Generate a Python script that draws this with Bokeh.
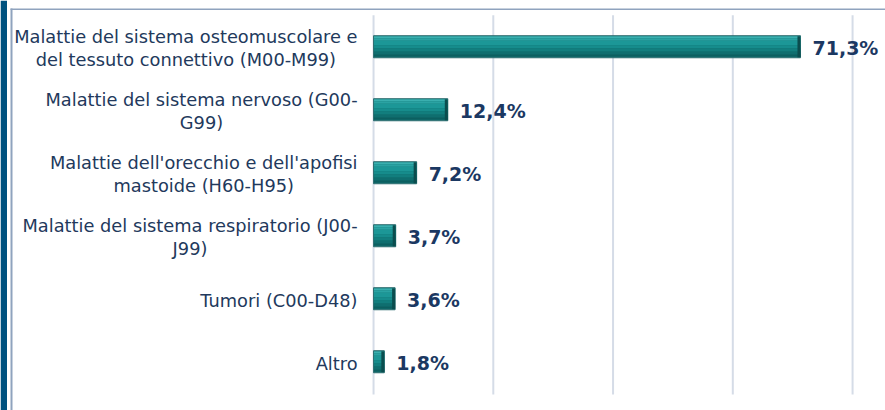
from bokeh.plotting import figure
from bokeh.models import FactorRange, Range1d, BoxAnnotation, ColumnDataSource
from bokeh.transform import dodge
from bokeh.core.properties import value
from bokeh.embed import file_html
from bokeh.resources import INLINE

categories = [
    "Malattie del sistema osteomuscolare e\ndel tessuto connettivo (M00-M99)",
    "Malattie del sistema nervoso (G00-\nG99)",
    "Malattie dell'orecchio e dell'apofisi\nmastoide (H60-H95)",
    "Malattie del sistema respiratorio (J00-\nJ99)",
    "Tumori (C00-D48)",
    "Altro",
]
values = [71.3, 12.4, 7.2, 3.7, 3.6, 1.8]
value_labels = ["71,3%", "12,4%", "7,2%", "3,7%", "3,6%", "1,8%"]
grid_ticks = [0, 20, 40, 60, 80]

src = ColumnDataSource(dict(cat=categories, val=values, lab=value_labels, zero=[0] * len(values)))
gsrc = ColumnDataSource(dict(t=grid_ticks,
                             ylo=[categories[-1]] * len(grid_ticks),
                             yhi=[categories[0]] * len(grid_ticks)))

yr = FactorRange(factors=categories[::-1], range_padding=16 / 63, range_padding_units="absolute")
p = figure(
    width=885, height=410,
    y_range=yr,
    x_range=Range1d(-62.3, 85.5),
    x_axis_location=None, y_axis_location=None,
    output_backend="svg", toolbar_location=None,
    min_border=0,
)
p.outline_line_color = None
p.background_fill_color = "white"
p.border_fill_color = "white"
p.xgrid.visible = False
p.ygrid.visible = False

# vertical grid lines spanning the category area
p.segment(x0="t", x1="t", y0=dodge("ylo", -0.5, range=yr), y1=dodge("yhi", 0.52, range=yr),
          source=gsrc, line_color="#D5DCE7", line_width=2)

# bars (layered to suggest the bevelled gradient)
bar_y = dodge("cat", 0.02, range=yr)
p.hbar(y=bar_y, right="val", left=0, height=0.35, source=src,
       fill_color="#116E6E", line_color="#2F6E70", line_width=1)
bands = [  # (offset, height, colour) from top to bottom
    (0.150, 0.030, "#3AAFAF"),
    (0.115, 0.040, "#2AA3A3"),
    (0.060, 0.070, "#1C9797"),
    (0.000, 0.050, "#168C8C"),
    (-0.050, 0.050, "#127E7E"),
    (-0.100, 0.050, "#0F6E6F"),
    (-0.140, 0.030, "#0C5F60"),
]
for off, h, c in bands:
    p.hbar(y=dodge("cat", 0.02 + off, range=yr), right="val", left=0.08, height=h, source=src,
           fill_color=c, line_color=None)
# dark bevelled end cap
p.rect(x=dodge("val", -0.25), y=bar_y, width=3, width_units="screen", height=0.33, source=src,
       fill_color="#0B4D4E", line_color=None)

# value labels
p.text(x="val", y="cat", text="lab", source=src, x_offset=12, y_offset=0,
       text_align="left", text_baseline="middle",
       text_font=value("DejaVu Sans"), text_font_style="bold", text_font_size="19px",
       text_color="#1B3862")

# category labels: block anchored right of the axis origin, lines centred
p.text(x="zero", y="cat", text="cat", source=src, x_offset=-16,
       anchor=value("center_right"), text_align="center", text_baseline="middle",
       text_line_height=1.06,
       text_font=value("DejaVu Sans"), text_font_size="17.8px", text_color="#22395C")

# page frame decorations
kw = dict(left_units="canvas", right_units="canvas", top_units="canvas", bottom_units="canvas",
          fill_alpha=1, line_color=None, level="overlay")
p.add_layout(BoxAnnotation(left=0, right=6.5, top=0, bottom=410, fill_color="#00527F", **kw))
p.add_layout(BoxAnnotation(left=10, right=12, top=8, bottom=410, fill_color="#8FA3BE", **kw))
p.add_layout(BoxAnnotation(left=10, right=885, top=8, bottom=9.5, fill_color="#8FA3BE", **kw))

open("out.html", "w").write(file_html(p, INLINE))
